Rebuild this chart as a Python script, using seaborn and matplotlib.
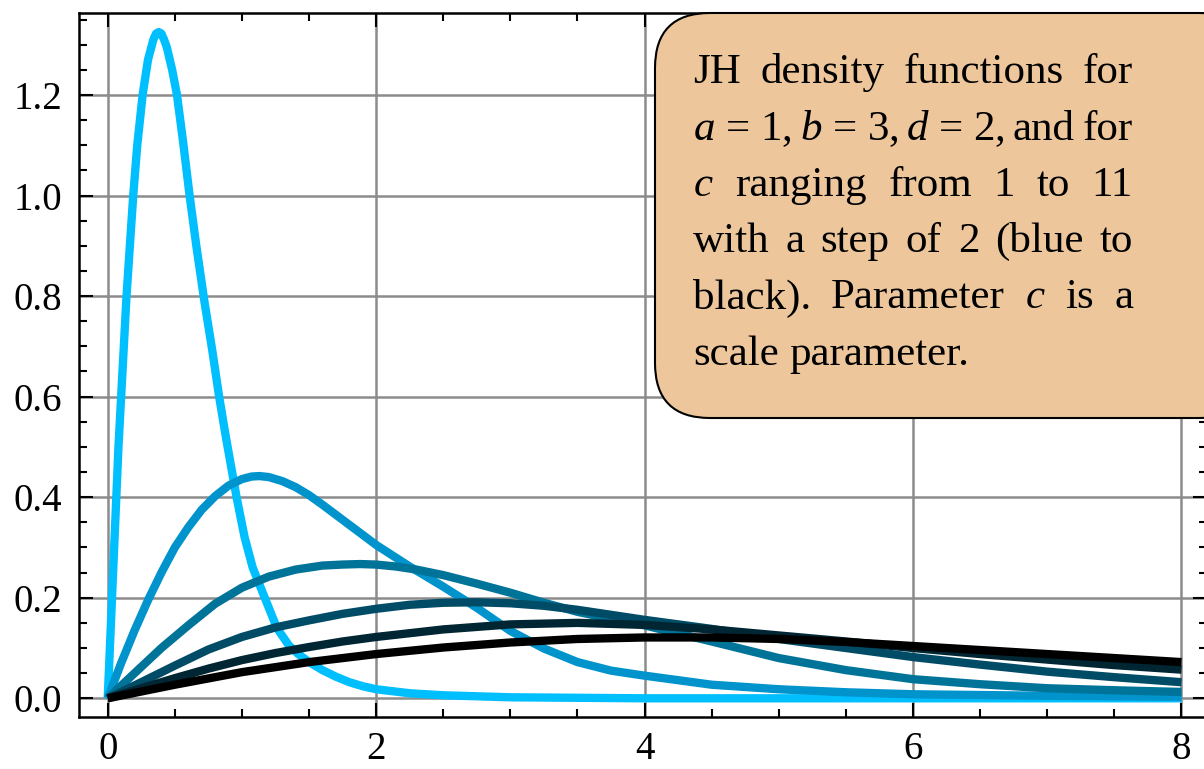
import pandas as pd
import matplotlib
matplotlib.use("Agg")
import matplotlib.pyplot as plt
import seaborn as sns
from matplotlib.patches import FancyBboxPatch
from matplotlib.transforms import IdentityTransform
from matplotlib.ticker import MultipleLocator, FormatStrFormatter

# Valores de c (de azul a negro)
valores_c = [1, 3, 5, 7, 9, 11]
colores = ["#00BFFF", "#0093CC", "#007399", "#004C66", "#002633", "#000000"]

# Curvas
x1 = [0, 0.04, 0.08, 0.10, 0.12, 0.14, 0.165, 0.19, 0.22, 0.26, 0.30, 0.34, 0.36, 0.38, 0.40,
      0.42, 0.44, 0.48, 0.516, 0.56, 0.61, 0.66, 0.72, 0.78, 0.83, 0.88, 0.92, 0.96, 1.02, 1.08,
      1.17, 1.26, 1.35, 1.42, 1.50, 1.60, 1.70, 1.80, 1.90, 2.00, 2.25, 2.50, 3.00, 3.50, 4.00,
      5.00, 6.00, 7.00, 8.00]
y1 = [0, 0.25, 0.50, 0.60, 0.70, 0.80, 0.90, 1.00, 1.10, 1.20, 1.27, 1.31, 1.322, 1.325, 1.322,
      1.31, 1.295, 1.25, 1.20, 1.11, 1.00, 0.90, 0.79, 0.69, 0.60, 0.52, 0.46, 0.40, 0.32, 0.26,
      0.20, 0.14, 0.105, 0.088, 0.072, 0.056, 0.043, 0.032, 0.024, 0.018, 0.010, 0.006, 0.002,
      0.001, 0, 0, 0, 0, 0]

x3 = [0, 0.1, 0.2, 0.3, 0.4, 0.5, 0.6, 0.7, 0.8, 0.9, 1.0, 1.07, 1.13, 1.2, 1.3, 1.4, 1.5, 1.6,
      1.7, 1.8, 1.9, 2.0, 2.25, 2.5, 2.75, 3.0, 3.25, 3.5, 3.75, 4.0, 4.5, 5.0, 5.5, 6.0, 7.0, 8.0]
y3 = [0, 0.07, 0.135, 0.195, 0.25, 0.30, 0.34, 0.375, 0.402, 0.423, 0.436, 0.441, 0.442, 0.44,
      0.432, 0.42, 0.404, 0.385, 0.365, 0.345, 0.325, 0.305, 0.262, 0.222, 0.18, 0.134, 0.099,
      0.072, 0.055, 0.045, 0.027, 0.018, 0.012, 0.008, 0.005, 0.003]

x5 = [0, 0.2, 0.4, 0.6, 0.8, 1.0, 1.2, 1.4, 1.6, 1.75, 1.88, 2.0, 2.15, 2.3, 2.5, 2.75, 3.0,
      3.25, 3.5, 3.75, 4.0, 4.5, 5.0, 5.5, 6.0, 6.5, 7.0, 7.5, 8.0]
y5 = [0, 0.05, 0.1, 0.145, 0.188, 0.22, 0.242, 0.256, 0.264, 0.266, 0.267, 0.266, 0.262, 0.256,
      0.245, 0.228, 0.21, 0.19, 0.172, 0.158, 0.145, 0.113, 0.08, 0.056, 0.038, 0.028, 0.02,
      0.016, 0.0126]

x7 = [0, 0.25, 0.5, 0.75, 1.0, 1.25, 1.5, 1.75, 2.0, 2.25, 2.5, 2.75, 3.0, 3.25, 3.5, 4.0, 4.5,
      5.0, 5.5, 6.0, 6.5, 7.0, 7.5, 8.0]
y7 = [0, 0.032, 0.065, 0.097, 0.122, 0.141, 0.155, 0.168, 0.178, 0.186, 0.19, 0.191, 0.189,
      0.184, 0.176, 0.156, 0.138, 0.118, 0.1, 0.082, 0.067, 0.053, 0.042, 0.032]

x9 = [0, 0.25, 0.5, 0.75, 1.0, 1.25, 1.5, 1.75, 2.0, 2.5, 3.0, 3.5, 4.0, 4.5, 5.0, 5.5, 6.0, 6.5,
      7.0, 7.5, 8.0]
y9 = [0, 0.02, 0.04, 0.059, 0.076, 0.09, 0.102, 0.113, 0.122, 0.137, 0.147, 0.15, 0.146, 0.137,
      0.125, 0.113, 0.1, 0.088, 0.077, 0.066, 0.057]

x11 = [0, 0.5, 1.0, 1.5, 2.0, 2.5, 3.0, 3.5, 4.0, 4.5, 5.0, 5.5, 6.0, 6.5, 7.0, 7.5, 8.0]
y11 = [0, 0.027, 0.052, 0.072, 0.088, 0.101, 0.111, 0.118, 0.121, 0.121, 0.118, 0.112, 0.104,
       0.096, 0.088, 0.08, 0.072]

curvas = [(x1, y1), (x3, y3), (x5, y5), (x7, y7), (x9, y9), (x11, y11)]

# Texto del recuadro (una lista de palabras por línea)
lineas = [
    ["JH", "density", "functions", "for"],
    ["$a$ = 1,", "$b$ = 3,", "$d$ = 2,", "and", "for"],
    ["$c$", "ranging", "from", "1", "to", "11"],
    ["with", "a", "step", "of", "2", "(blue", "to"],
    ["black).", "Parameter", "$c$", "is", "a"],
    ["scale", "parameter."],
]

df = pd.concat([pd.DataFrame({"x": x, "y": y, "c": c}) for c, (x, y) in zip(valores_c, curvas)])

sns.set_style("ticks")
plt.rcParams["font.family"] = ["Liberation Serif", "DejaVu Serif"]
plt.rcParams["mathtext.fontset"] = "custom"
plt.rcParams["mathtext.rm"] = "Liberation Serif"
plt.rcParams["mathtext.it"] = "Liberation Serif:italic"
plt.rcParams["text.color"] = "black"
plt.rcParams["xtick.color"] = "black"
plt.rcParams["ytick.color"] = "black"
plt.rcParams["axes.edgecolor"] = "black"

W, H = 1204, 769
fig = plt.figure(figsize=(W / 100, H / 100), dpi=100)
ax = fig.add_axes([79 / W, 1 - 716.7 / H, (1207 - 79) / W, (716.7 - 13) / H])

sns.lineplot(data=df, x="x", y="y", hue="c", palette=colores, estimator=None, sort=False,
             lw=6, legend=False, ax=ax, solid_capstyle="butt", solid_joinstyle="round")

ax.set_xlim(-0.214, 8.19)
ax.set_ylim(-0.0366, 1.363)
ax.set_xlabel("")
ax.set_ylabel("")
ax.xaxis.set_major_locator(MultipleLocator(2))
ax.xaxis.set_minor_locator(MultipleLocator(0.5))
ax.yaxis.set_major_locator(MultipleLocator(0.2))
ax.yaxis.set_minor_locator(MultipleLocator(0.05))
ax.xaxis.set_major_formatter(FormatStrFormatter("%d"))
ax.yaxis.set_major_formatter(FormatStrFormatter("%.1f"))
ax.grid(True, which="major", color="0.55", lw=1.8)
ax.tick_params(which="both", direction="in", top=True, right=True, width=1.5, labelsize=28,
               colors="black")
ax.tick_params(which="major", length=10)
ax.tick_params(which="minor", length=5.5)
ax.tick_params(axis="x", pad=10)
ax.tick_params(axis="y", pad=12)
for s in ax.spines.values():
    s.set_linewidth(1.8)
    s.set_color("black")

# Recuadro con el texto
caja = FancyBboxPatch((655, H - 418), 600, 405, boxstyle="round,pad=0,rounding_size=55",
                      facecolor="#EDC79B", edgecolor="black", lw=1.5,
                      transform=IdentityTransform(), zorder=5)
fig.add_artist(caja)

renderer = fig.canvas.get_renderer()
izq, der = 693, 1133
for i, palabras in enumerate(lineas):
    base = 83.3 + i * 56.3
    textos = [fig.text(0, 1 - base / H, p, fontsize=31, va="baseline", ha="left", zorder=6,
                       color="black")
              for p in palabras]
    anchos = [t.get_window_extent(renderer).width for t in textos]
    if i < len(lineas) - 1:
        hueco = (der - izq - sum(anchos)) / (len(palabras) - 1)
    else:
        hueco = 10.8
    pos = izq
    for t, a in zip(textos, anchos):
        t.set_x(pos / W)
        pos += a + hueco

fig.savefig("out.png", dpi=100)
